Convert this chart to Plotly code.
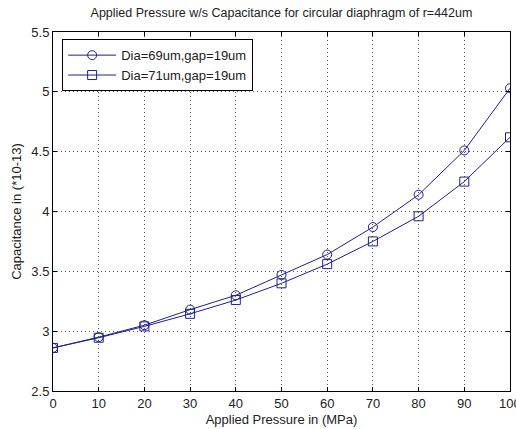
import plotly.graph_objects as go

pressure = [0, 10, 20, 30, 40, 50, 60, 70, 80, 90, 100]
cap_dia69 = [2.86, 2.95, 3.05, 3.18, 3.30, 3.47, 3.64, 3.87, 4.14, 4.51, 5.03]
cap_dia71 = [2.86, 2.945, 3.04, 3.145, 3.26, 3.40, 3.56, 3.75, 3.96, 4.25, 4.62]
names = ["Dia=69um,gap=19um", "Dia=71um,gap=19um"]
x_ticks = list(range(0, 101, 10))
x_ticktext = [str(v) for v in x_ticks[:-1]] + [""]
y_ticks = [2.5, 3, 3.5, 4, 4.5, 5, 5.5]
y_ticktext = ["2.5", "3", "3.5", "4", "4.5", "5", "5.5"]

font = "Liberation Sans, Arial, sans-serif"
line_col = "#1f1f9a"
txt_col = "#222222"

fig = go.Figure()
fig.add_trace(go.Scatter(x=pressure, y=cap_dia69, name=names[0], mode="lines+markers",
                         line=dict(color=line_col, width=1),
                         marker=dict(symbol="circle-open", size=9, color=line_col, line=dict(width=1))))
fig.add_trace(go.Scatter(x=pressure, y=cap_dia71, name=names[1], mode="lines+markers",
                         line=dict(color=line_col, width=1),
                         marker=dict(symbol="square-open", size=9, color=line_col, line=dict(width=1))))

axis_common = dict(showline=True, linecolor="black", linewidth=1, mirror="ticks",
                   ticks="inside", ticklen=4, tickcolor="black",
                   showgrid=True, gridcolor="#555555", griddash="1px,3px", gridwidth=1,
                   zeroline=False, automargin=False,
                   tickfont=dict(family=font, size=13, color=txt_col))

fig.update_layout(
    width=516, height=429,
    margin=dict(l=53, r=6, t=32, b=38),
    paper_bgcolor="white", plot_bgcolor="white",
    font=dict(family=font, size=12, color=txt_col),
    title=dict(text="Applied Pressure w/s Capacitance for circular diaphragm of r=442um",
               x=0.5455, xanchor="center", y=0.97, yanchor="middle",
               font=dict(family=font, size=12.5, color=txt_col)),
    xaxis=dict(range=[0, 100], tickvals=x_ticks, ticktext=x_ticktext,
               title=dict(text="Applied Pressure in (MPa)", standoff=5,
                          font=dict(family=font, size=13, color=txt_col)),
               **axis_common),
    yaxis=dict(range=[2.5, 5.5], tickvals=y_ticks, ticktext=y_ticktext,
               title=dict(text="Capacitance in (*10-13)", standoff=6,
                          font=dict(family=font, size=13, color=txt_col)),
               **axis_common),
    legend=dict(x=0.02, y=0.98, xanchor="left", yanchor="top",
                bgcolor="white", bordercolor="black", borderwidth=1,
                font=dict(family=font, size=13, color=txt_col),
                tracegroupgap=0, itemwidth=48),
    showlegend=True,
)

# last x tick label, which runs past the right edge of the picture (as in the reference)
fig.add_annotation(x=x_ticks[-1], y=0, xref="x", yref="paper", text=str(x_ticks[-1]),
                   showarrow=False, xanchor="center", yanchor="top", yshift=-3,
                   font=dict(family=font, size=13, color=txt_col))

fig.write_html("out.html")
